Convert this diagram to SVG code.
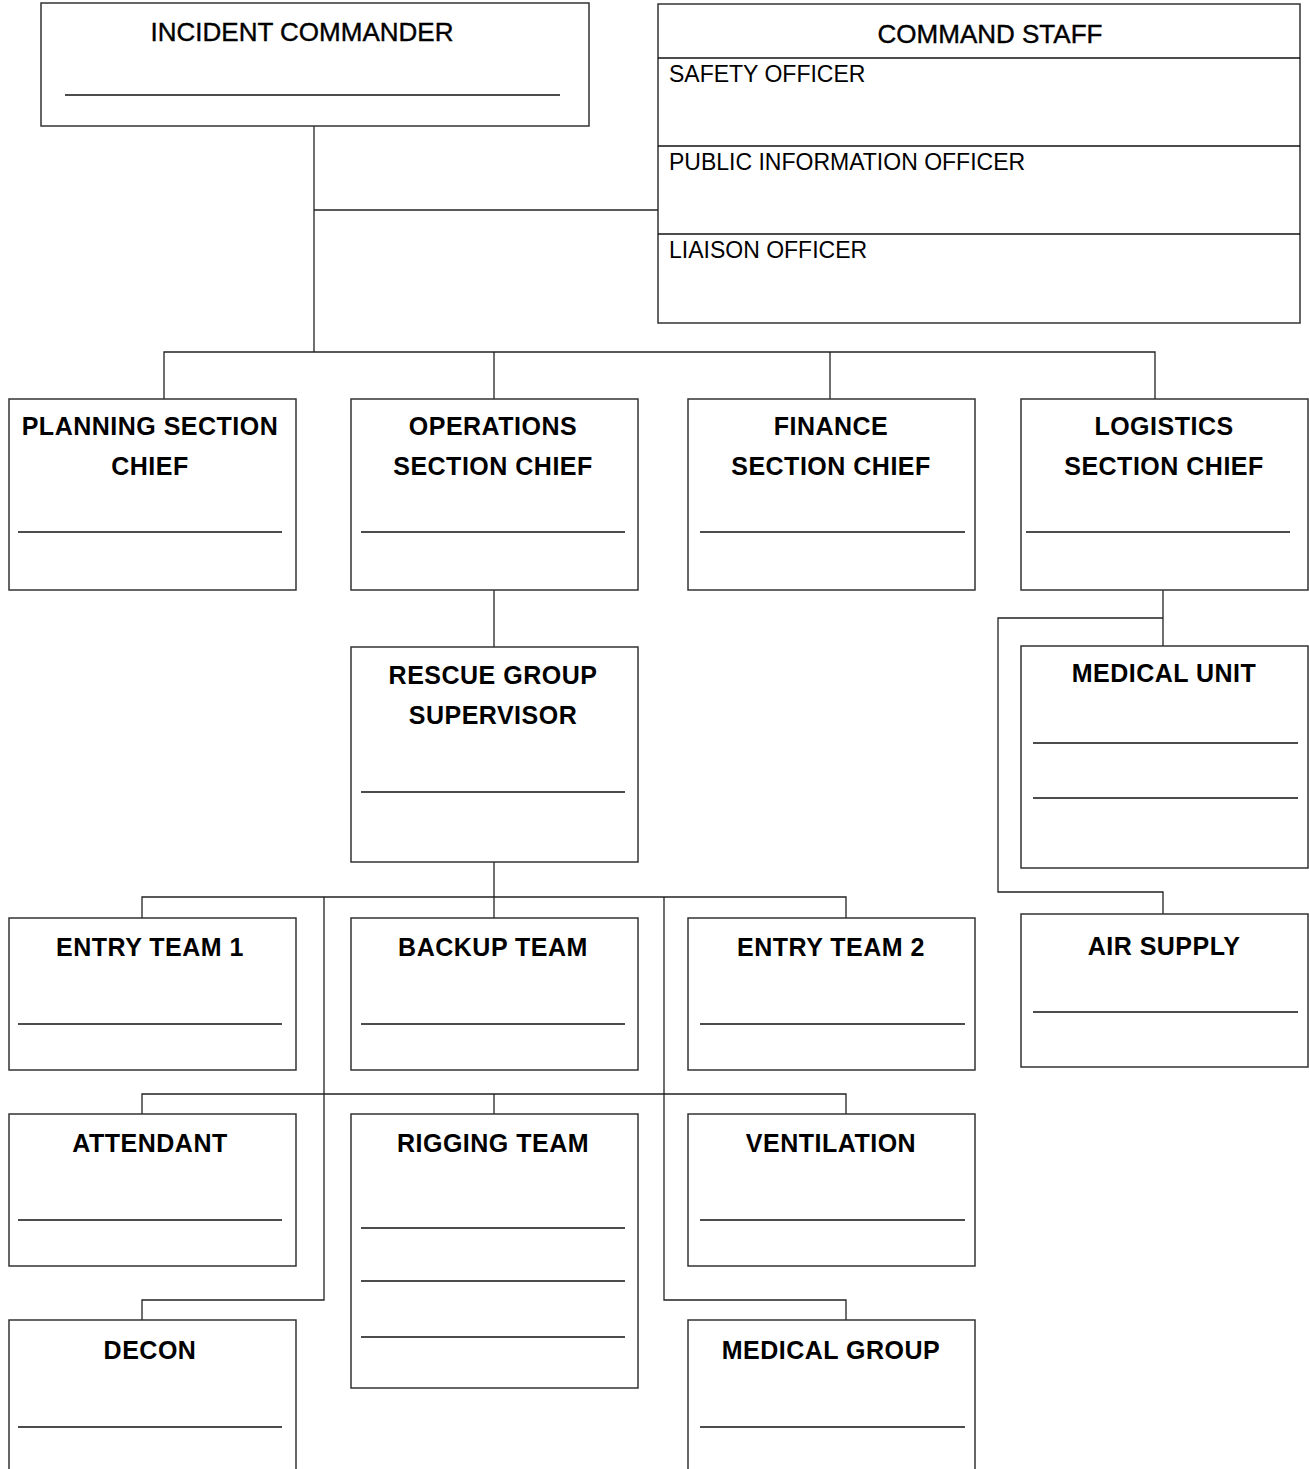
<svg xmlns="http://www.w3.org/2000/svg" width="1309" height="1469" viewBox="0 0 1309 1469">
<style>
.box{fill:#fff;stroke:#333;stroke-width:1.5}
.ln{stroke:#111;stroke-width:1.3}
.cn{fill:none;stroke:#222;stroke-width:1.3}
.lbl{font-family:"Liberation Sans",Arial,sans-serif;font-size:25px;font-weight:bold;letter-spacing:0.5px;text-anchor:middle;fill:#000}
.hd{font-family:"Liberation Sans",Arial,sans-serif;font-size:26px;text-anchor:middle;fill:#000;stroke:#000;stroke-width:0.4}
.off{font-family:"Liberation Sans",Arial,sans-serif;font-size:23px;fill:#000}
</style>
<rect width="1309" height="1469" fill="#fff"/>
<g id="connectors">
<path class="cn" d="M314,126 V352"/>
<path class="cn" d="M314,210 H658"/>
<path class="cn" d="M164,399 V352 H1155 V399"/>
<path class="cn" d="M494,352 V399"/>
<path class="cn" d="M830,352 V399"/>
<path class="cn" d="M494,590 V647"/>
<path class="cn" d="M1163,590 V647"/>
<path class="cn" d="M1163,618 H998 V892 H1163 V914"/>
<path class="cn" d="M494,862 V918"/>
<path class="cn" d="M142,918 V897 H846 V918"/>
<path class="cn" d="M142,1114 V1094 H846 V1114"/>
<path class="cn" d="M494,1094 V1114"/>
<path class="cn" d="M324,897 V1300 H142 V1320"/>
<path class="cn" d="M664,897 V1300 H846 V1320"/>
</g>
<g id="incident-commander">
<rect class="box" x="41" y="3" width="548" height="123"/>
<text class="hd" x="302" y="41">INCIDENT COMMANDER</text>
<line class="ln" x1="65" y1="95" x2="560" y2="95"/>
</g>
<g id="command-staff">
<rect class="box" x="658" y="4" width="642" height="319"/>
<line class="ln" x1="658" y1="58" x2="1300" y2="58"/>
<line class="ln" x1="658" y1="146" x2="1300" y2="146"/>
<line class="ln" x1="658" y1="234" x2="1300" y2="234"/>
<text class="hd" x="990" y="43">COMMAND STAFF</text>
<text class="off" x="669" y="82">SAFETY OFFICER</text>
<text class="off" x="669" y="170">PUBLIC INFORMATION OFFICER</text>
<text class="off" x="669" y="258">LIAISON OFFICER</text>
</g>
<g id="planning">
<rect class="box" x="9" y="399" width="287" height="191"/>
<text class="lbl" x="150" y="435">PLANNING SECTION</text>
<text class="lbl" x="150" y="475">CHIEF</text>
<line class="ln" x1="18" y1="532" x2="282" y2="532"/>
</g>
<g id="operations">
<rect class="box" x="351" y="399" width="287" height="191"/>
<text class="lbl" x="493" y="435">OPERATIONS</text>
<text class="lbl" x="493" y="475">SECTION CHIEF</text>
<line class="ln" x1="361" y1="532" x2="625" y2="532"/>
</g>
<g id="finance">
<rect class="box" x="688" y="399" width="287" height="191"/>
<text class="lbl" x="831" y="435">FINANCE</text>
<text class="lbl" x="831" y="475">SECTION CHIEF</text>
<line class="ln" x1="700" y1="532" x2="965" y2="532"/>
</g>
<g id="logistics">
<rect class="box" x="1021" y="399" width="287" height="191"/>
<text class="lbl" x="1164" y="435">LOGISTICS</text>
<text class="lbl" x="1164" y="475">SECTION CHIEF</text>
<line class="ln" x1="1026" y1="532" x2="1290" y2="532"/>
</g>
<g id="rescue-group">
<rect class="box" x="351" y="647" width="287" height="215"/>
<text class="lbl" x="493" y="684">RESCUE GROUP</text>
<text class="lbl" x="493" y="724">SUPERVISOR</text>
<line class="ln" x1="361" y1="792" x2="625" y2="792"/>
</g>
<g id="medical-unit">
<rect class="box" x="1021" y="646" width="287" height="222"/>
<text class="lbl" x="1164" y="682">MEDICAL UNIT</text>
<line class="ln" x1="1033" y1="743" x2="1298" y2="743"/>
<line class="ln" x1="1033" y1="798" x2="1298" y2="798"/>
</g>
<g id="air-supply">
<rect class="box" x="1021" y="914" width="287" height="153"/>
<text class="lbl" x="1164" y="955">AIR SUPPLY</text>
<line class="ln" x1="1033" y1="1012" x2="1298" y2="1012"/>
</g>
<g id="entry-team-1">
<rect class="box" x="9" y="918" width="287" height="152"/>
<text class="lbl" x="150" y="956">ENTRY TEAM 1</text>
<line class="ln" x1="18" y1="1024" x2="282" y2="1024"/>
</g>
<g id="backup-team">
<rect class="box" x="351" y="918" width="287" height="152"/>
<text class="lbl" x="493" y="956">BACKUP TEAM</text>
<line class="ln" x1="361" y1="1024" x2="625" y2="1024"/>
</g>
<g id="entry-team-2">
<rect class="box" x="688" y="918" width="287" height="152"/>
<text class="lbl" x="831" y="956">ENTRY TEAM 2</text>
<line class="ln" x1="700" y1="1024" x2="965" y2="1024"/>
</g>
<g id="attendant">
<rect class="box" x="9" y="1114" width="287" height="152"/>
<text class="lbl" x="150" y="1152">ATTENDANT</text>
<line class="ln" x1="18" y1="1220" x2="282" y2="1220"/>
</g>
<g id="rigging-team">
<rect class="box" x="351" y="1114" width="287" height="274"/>
<text class="lbl" x="493" y="1152">RIGGING TEAM</text>
<line class="ln" x1="361" y1="1228" x2="625" y2="1228"/>
<line class="ln" x1="361" y1="1281" x2="625" y2="1281"/>
<line class="ln" x1="361" y1="1337" x2="625" y2="1337"/>
</g>
<g id="ventilation">
<rect class="box" x="688" y="1114" width="287" height="152"/>
<text class="lbl" x="831" y="1152">VENTILATION</text>
<line class="ln" x1="700" y1="1220" x2="965" y2="1220"/>
</g>
<g id="decon">
<rect class="box" x="9" y="1320" width="287" height="170"/>
<text class="lbl" x="150" y="1359">DECON</text>
<line class="ln" x1="18" y1="1427" x2="282" y2="1427"/>
</g>
<g id="medical-group">
<rect class="box" x="688" y="1320" width="287" height="170"/>
<text class="lbl" x="831" y="1359">MEDICAL GROUP</text>
<line class="ln" x1="700" y1="1427" x2="965" y2="1427"/>
</g>
</svg>
